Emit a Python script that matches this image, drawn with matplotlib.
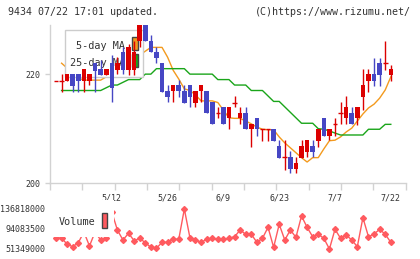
import numpy as np
import matplotlib
matplotlib.use("Agg")
import matplotlib.pyplot as plt
import matplotlib.transforms as mtransforms
from matplotlib.patches import Rectangle

# daily candles 4/23 .. 7/22 (61 trading days)
opens = [218.8, 218.8, 218.8, 220.0, 220.0, 218.8, 218.8, 222.1, 220.9, 219.8,
         222.1, 220.7, 224.1, 220.7, 220.7, 226.0, 229.0, 226.1, 224.1, 222.1,
         216.9, 216.9, 218.0, 217.0, 218.0, 214.8, 216.9, 217.0, 214.9, 212.9,
         213.9, 211.9, 214.8, 211.9, 212.9, 209.9, 211.9, 209.9, 209.9, 209.9,
         206.8, 204.8, 204.9, 202.6, 204.7, 205.8, 206.8, 207.7, 211.9, 208.7,
         210.8, 212.8, 211.9, 212.8, 211.9, 215.9, 218.8, 220.0, 222.1, 222.0,
         219.8]
closes = [218.8, 218.8, 220.0, 217.8, 218.8, 220.9, 220.0, 220.5, 219.8, 220.9,
          217.4, 222.1, 220.7, 225.0, 224.1, 229.5, 226.1, 224.0, 222.9, 216.8,
          215.9, 218.0, 216.9, 214.8, 215.9, 216.9, 218.0, 212.8, 210.9, 212.9,
          210.8, 213.9, 214.8, 212.9, 209.9, 210.9, 209.9, 209.9, 209.9, 207.8,
          204.7, 204.8, 202.6, 203.8, 206.8, 207.9, 205.8, 209.9, 208.7, 209.9,
          210.8, 212.8, 213.9, 210.8, 213.9, 218.0, 220.0, 218.8, 219.8, 222.0,
          220.9]
highs = [218.8, 220.0, 220.0, 220.0, 220.0, 220.9, 220.0, 222.1, 222.5, 220.9,
         223.5, 223.1, 225.0, 225.5, 226.1, 229.5, 229.5, 227.1, 225.0, 222.1,
         218.0, 218.0, 218.9, 218.0, 218.0, 216.9, 218.0, 217.0, 214.9, 214.0,
         213.9, 213.9, 216.0, 214.0, 214.0, 210.9, 211.9, 209.9, 209.9, 209.9,
         207.9, 207.9, 206.0, 204.9, 207.9, 207.9, 207.9, 209.9, 211.9, 209.9,
         211.9, 214.9, 216.0, 213.9, 213.9, 220.9, 221.0, 223.0, 223.0, 226.0,
         221.6]
lows = [218.8, 216.8, 218.8, 216.8, 216.8, 216.8, 218.0, 216.8, 219.8, 219.8,
        214.9, 220.0, 220.0, 219.8, 219.8, 224.9, 226.1, 224.0, 222.0, 216.8,
        214.9, 214.9, 215.9, 214.8, 213.9, 213.9, 214.9, 212.8, 210.9, 211.9,
        210.8, 209.9, 214.0, 210.8, 209.9, 206.7, 208.7, 207.8, 207.8, 207.8,
        204.7, 202.4, 201.8, 201.8, 204.7, 204.9, 204.9, 206.7, 208.7, 207.9,
        208.7, 210.8, 210.8, 210.8, 210.7, 213.4, 216.8, 217.8, 217.8, 220.7,
        218.8]
ma5 = [np.nan, 222.0, 221.1, 220.2, 219.3, 218.9, 218.9, 218.9, 218.9, 219.5,
       219.8, 219.6, 220.5, 221.7, 222.6, 223.5, 224.2, 224.9, 224.9, 224.9,
       223.1, 220.7, 219.1, 217.3, 217.0, 216.2, 215.1, 215.1, 215.1, 214.8,
       213.4, 212.0, 211.9, 211.9, 211.4, 210.9, 210.3, 209.9, 209.8, 209.8,
       208.5, 207.4, 206.5, 205.6, 204.7, 203.9, 204.7, 204.7, 206.3, 207.8,
       207.9, 208.5, 209.4, 210.1, 211.4, 212.7, 213.8, 214.5, 215.6, 217.1,
       219.5]
ma25 = [np.nan, 217.0, 217.0, 217.0, 217.0, 217.0, 217.0, 217.0, 217.0, 217.5,
        218.0, 218.0, 218.5, 219.0, 219.0, 219.0, 220.0, 220.0, 221.0, 221.0,
        221.0, 221.0, 221.0, 221.0, 220.0, 220.0, 220.0, 220.0, 220.0, 219.0,
        219.0, 219.0, 218.0, 218.0, 218.0, 217.0, 217.0, 217.0, 216.0, 215.0,
        215.0, 214.0, 213.0, 212.0, 211.0, 211.0, 211.0, 210.0, 209.9, 209.6,
        209.2, 208.85, 208.85, 208.85, 208.85, 208.85, 209.9, 209.9, 209.9, 210.8,
        210.8]
volume = [74.9, 74.9, 61.4, 56.3, 64.8, 87.7, 57.8, 87.7, 70.6, 74.2,
          130.4, 91.9, 70.6, 84.9, 69.1, 74.2, 64.8, 55.0, 52.8, 65.7,
          65.7, 72.1, 72.1, 136.818, 75.5, 70.6, 65.7, 72.1, 74.2, 72.1,
          72.1, 74.2, 77.6, 91.9, 82.8, 82.8, 65.7, 74.2, 97.7, 55.0,
          104.1, 70.6, 91.9, 76.4, 121.9, 97.7, 77.6, 82.8, 74.2, 51.349,
          93.4, 74.2, 81.3, 70.6, 56.3, 118.2, 77.6, 83.4, 93.4, 82.8,
          65.7]
volume = [v * 1e6 for v in volume]

date_pos = [10, 20, 30, 40, 50, 60]
date_labels = ["5/12", "5/26", "6/9", "6/23", "7/7", "7/22"]
price_ticks = [200, 220]
vol_ticks = [51349000, 94083500, 136818000]

RED = "#dc0000"
BLUE = "#4646c4"
ORANGE = "#f39a1e"
GREEN = "#1aa51a"
VOLC = "#ff5a5f"
GRAY = "#d2d2d2"
TXT = "#333333"
MONO = "DejaVu Sans Mono"

W, H = 420, 259
fig = plt.figure(figsize=(W / 100, H / 100), dpi=100)

def fx(p):
    return p / W

def fy(p):
    return 1 - p / H

xmin, xmax = -1.075, 62.67

# price panel
ax = fig.add_axes([fx(50), fy(183.3), fx(355.7), 158.3 / H])
ax.set_xlim(xmin, xmax)
ax.set_ylim(200, 229)
for s in ["top", "right"]:
    ax.spines[s].set_visible(False)
for s in ["left", "bottom"]:
    ax.spines[s].set_color(GRAY)
    ax.spines[s].set_linewidth(1)
ax.set_xticks(np.linspace(xmin, xmax, 12))
ax.set_xticklabels([])
ax.tick_params(axis="x", length=4.8, width=1, color=GRAY)
ax.set_yticks(price_ticks)
ax.set_yticklabels([str(t) for t in price_ticks], fontfamily=MONO, fontsize=6, color=TXT)
ax.tick_params(axis="y", length=3.6, width=1, color=GRAY, pad=3.6)

idx = np.arange(len(closes))
ax.plot(idx, ma5, color=ORANGE, lw=1, zorder=1)
ax.plot(idx, ma25, color=GREEN, lw=1, zorder=1)

# legend box sits above the lines but under the candles
ax.add_patch(Rectangle((fx(65), fy(77)), fx(78), 47 / H, transform=fig.transFigure,
                       facecolor="white", edgecolor="#cccccc", lw=1, zorder=2))
ax.text(fx(76), fy(46), "5-day MA", transform=fig.transFigure, fontfamily=MONO,
        fontsize=7.3, color=TXT, va="center", zorder=2.5)
ax.text(fx(70), fy(63), "25-day MA", transform=fig.transFigure, fontfamily=MONO,
        fontsize=7.3, color=TXT, va="center", zorder=2.5)
ax.add_patch(Rectangle((fx(131.5), fy(50)), fx(6), 13 / H, transform=fig.transFigure,
                       facecolor=ORANGE, edgecolor="#444444", lw=1, zorder=2.5))
ax.add_patch(Rectangle((fx(131.5), fy(67)), fx(6), 13 / H, transform=fig.transFigure,
                       facecolor=GREEN, edgecolor="#444444", lw=1, zorder=2.5))

bw = 0.82
for i in idx:
    o, h, l, c = opens[i], highs[i], lows[i], closes[i]
    col = RED if c >= o else BLUE
    ax.vlines(i, l, h, color=col, lw=1, zorder=3)
    if abs(c - o) < 0.05:
        ax.hlines(o, i - bw / 2, i + bw / 2, color=col, lw=1, zorder=3)
    else:
        ax.bar(i, abs(c - o), bottom=min(o, c), width=bw, color=col, lw=0, zorder=3)

tr = mtransforms.blended_transform_factory(ax.transData, fig.transFigure)
for p, lab in zip(date_pos, date_labels):
    ax.text(p, fy(198), lab, transform=tr, ha="center", va="center",
            fontfamily=MONO, fontsize=6, color=TXT)

# volume panel
vax = fig.add_axes([fx(50), fy(249), fx(355.7), 40 / H])
vax.set_xlim(xmin, xmax)
vax.set_ylim(vol_ticks[0], vol_ticks[-1])
vax.axis("off")
vax.plot(idx, volume, color=VOLC, lw=1, marker="D", ms=3, mec=VOLC, zorder=2, clip_on=False)
vax.add_patch(Rectangle((fx(52), fy(237)), fx(61.5), 37 / H, transform=fig.transFigure,
                        facecolor="white", edgecolor="none", zorder=3, clip_on=False))
vax.text(fx(59), fy(222), "Volume", transform=fig.transFigure, fontfamily=MONO,
         fontsize=7.3, color=TXT, va="center", zorder=4)
vax.add_patch(Rectangle((fx(101.5), fy(228.3)), fx(6), 15 / H, transform=fig.transFigure,
                        facecolor=VOLC, edgecolor="#444444", lw=1, zorder=4, clip_on=False))
for v, yp in zip(vol_ticks, [249, 229, 209]):
    fig.text(fx(45), fy(yp), str(v), ha="right", va="center", fontfamily=MONO,
             fontsize=6, color=TXT)

fig.text(fx(8), fy(12), "9434 07/22 17:01 updated.", fontfamily=MONO, fontsize=7.2,
         color=TXT, va="center")
fig.text(fx(411), fy(12), "(C)https://www.rizumu.net/", fontfamily=MONO, fontsize=7.2,
         color=TXT, va="center", ha="right")

fig.savefig("out.png", dpi=100)
